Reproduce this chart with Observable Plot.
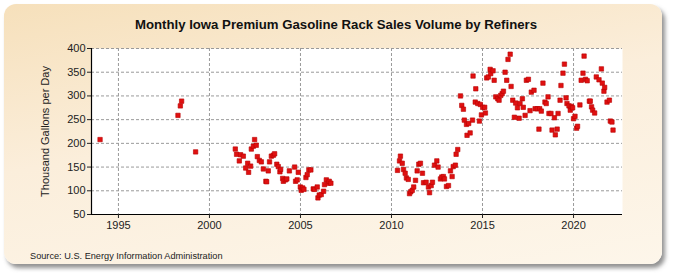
<!DOCTYPE html>
<html>
<head>
<meta charset="utf-8">
<script src="https://cdn.jsdelivr.net/npm/d3@7"></script>
<script src="https://cdn.jsdelivr.net/npm/@observablehq/plot@0.6"></script>
<style>
  html, body { margin: 0; padding: 0; background: #ffffff; }
  #wrap { position: relative; width: 675px; height: 275px; overflow: hidden; }
  #panel {
    position: absolute; left: 4px; top: 4px; width: 658px; height: 260px;
    border-radius: 12px;
    background: linear-gradient(170deg, #f6e0bb 0%, #fbeedb 45%, #fdf6ea 100%);
    box-shadow: 3px 4px 4px rgba(110,110,110,0.75);
  }
  #title {
    position: absolute; left: 0; width: 672px; top: 17px; text-align: center;
    font-family: "Liberation Sans", Arial, sans-serif;
    font-weight: bold; font-size: 13.2px; color: #111;
  }
  #source {
    position: absolute; left: 30px; top: 251px;
    font-family: "Liberation Sans", Arial, sans-serif; font-size: 9.2px; color: #222;
  }
  #chart { position: absolute; left: 0; top: 0; }
</style>
</head>
<body>
<div id="wrap">
  <div id="panel"></div>
  <div id="chart"></div>
  <div id="title">Monthly Iowa Premium Gasoline Rack Sales Volume by Refiners</div>
  <div id="source">Source: U.S. Energy Information Administration</div>
</div>
<script>
const years = [
  1993.99, 1998.27, 1998.40, 1998.47, 1999.24,
  2001.42, 2001.49, 2001.64, 2001.71, 2001.86, 2001.99, 2002.10, 2002.15, 2002.26, 2002.30,
  2002.41, 2002.48, 2002.57, 2002.63, 2002.74, 2002.85, 2002.96, 2003.10, 2003.14, 2003.23,
  2003.30, 2003.40, 2003.51, 2003.58, 2003.70, 2003.78, 2003.87, 2003.91, 2004.02, 2004.06,
  2004.17, 2004.25, 2004.39, 2004.68, 2004.73, 2004.82, 2004.88, 2004.99, 2005.04, 2005.12,
  2005.19, 2005.30, 2005.37, 2005.46, 2005.57, 2005.70, 2005.77, 2005.92, 2005.96, 2006.03,
  2006.14, 2006.27, 2006.32, 2006.42, 2006.53, 2006.58, 2006.67,
  2010.33, 2010.44, 2010.49, 2010.59, 2010.66, 2010.75, 2010.82, 2010.92, 2010.99, 2011.06,
  2011.14, 2011.22, 2011.32, 2011.41, 2011.50, 2011.59, 2011.70, 2011.76, 2011.90, 2012.03,
  2012.09, 2012.18, 2012.25, 2012.36, 2012.49, 2012.56, 2012.69, 2012.76, 2012.85, 2012.91,
  2013.02, 2013.13, 2013.24, 2013.33, 2013.39, 2013.51, 2013.55, 2013.64,
  2013.79, 2013.86, 2013.95, 2014.00, 2014.12, 2014.15, 2014.24, 2014.32, 2014.45, 2014.48,
  2014.60, 2014.63, 2014.74, 2014.83, 2014.88, 2014.94, 2015.01, 2015.12, 2015.16, 2015.23,
  2015.32, 2015.42, 2015.45, 2015.58, 2015.64, 2015.73, 2015.84, 2015.91, 2016.00, 2016.08,
  2016.15, 2016.24, 2016.33, 2016.40, 2016.52, 2016.57, 2016.66, 2016.75, 2016.82, 2016.92,
  2017.01, 2017.06, 2017.19, 2017.24, 2017.34, 2017.41, 2017.52, 2017.61, 2017.68, 2017.83,
  2017.89, 2018.01, 2018.10, 2018.14, 2018.23, 2018.32, 2018.43, 2018.50, 2018.60, 2018.65,
  2018.76, 2018.82, 2018.95, 2019.00, 2019.10, 2019.15, 2019.26, 2019.31, 2019.42, 2019.50,
  2019.59, 2019.64, 2019.75, 2019.82, 2019.88, 2019.95, 2020.00, 2020.08, 2020.17, 2020.22,
  2020.35, 2020.42, 2020.52, 2020.58, 2020.66, 2020.75, 2020.87, 2020.92, 2020.99, 2021.05,
  2021.16, 2021.25, 2021.40, 2021.53, 2021.58, 2021.67, 2021.71, 2021.84, 2021.97, 2022.02,
  2022.11, 2022.17
];
// Thousand gallons per day
const volumes = [
  208, 259, 279, 289, 182,
  188, 177, 163, 176, 173, 148, 158, 139, 152, 188,
  194, 208, 196, 172, 164, 161, 146, 120, 119, 142,
  161, 173, 175, 178, 156, 151, 140, 145, 126, 120,
  123, 125, 142, 150, 120, 123, 139, 108, 101, 106,
  103, 128, 134, 144, 144, 104, 103, 108, 85, 91,
  92, 99, 113, 123, 116, 120, 116,
  143, 163, 173, 158, 145, 137, 127, 124, 94, 98,
  101, 108, 122, 142, 156, 158, 137, 117, 118, 108,
  96, 111, 118, 154, 163, 150, 125, 129, 130, 125,
  109, 111, 142, 130, 151, 154, 177, 187,
  300, 280, 272, 249, 240, 217, 242, 222, 249, 342,
  287, 315, 284, 247, 282, 260, 276, 276, 264, 338,
  340, 356, 347, 353, 333, 298, 294, 291, 301, 305,
  310, 350, 333, 377, 388, 320, 291, 255, 285, 275,
  253, 284, 294, 276, 259, 333, 335, 269, 308, 312,
  273, 273, 230, 273, 268, 327, 287, 284, 298, 263,
  263, 228, 254, 218, 230, 263, 291, 322, 348, 367,
  296, 284, 279, 270, 278, 275, 252, 257, 232, 236,
  281, 333, 348, 384, 335, 332, 289, 289, 277, 270,
  264, 340, 334, 357, 327, 310, 318, 287, 291, 247,
  245, 228
];
const xTicks = [1995, 2000, 2005, 2010, 2015, 2020];
const yTicks = [50, 100, 150, 200, 250, 300, 350, 400];
const yLabel = "Thousand Gallons per Day";

const data = years.map((t, i) => ({year: t, value: volumes[i]}));
const xMin = 1993.52, xMax = 2022.69;

const chart = Plot.plot({
  width: 675,
  height: 275,
  marginLeft: 91,
  marginRight: 53,
  marginTop: 48,
  marginBottom: 61,
  style: {background: "transparent", fontFamily: "Liberation Sans, Arial, sans-serif", fontSize: "11px", color: "#222"},
  x: {type: "linear", domain: [xMin, xMax]},
  y: {domain: [50, 400]},
  marks: [
    Plot.frame({fill: "white", stroke: null}),
    Plot.gridX(xTicks, {stroke: "#9a9a9a", strokeOpacity: 1, strokeDasharray: "3,2"}),
    Plot.gridY(yTicks, {stroke: "#9a9a9a", strokeOpacity: 1, strokeDasharray: "3,2"}),
    Plot.ruleX([xMin], {stroke: "#000", strokeWidth: 1.2}),
    Plot.ruleY([50], {stroke: "#000", strokeWidth: 1.2}),
    Plot.axisX(xTicks, {tickSize: 4, tickPadding: 3, tickFormat: d => String(d), label: null, fontSize: 11}),
    Plot.axisY(yTicks, {tickSize: 4, tickPadding: 2, label: yLabel, labelAnchor: "center", labelArrow: "none", labelOffset: 50, fontSize: 11}),
    Plot.dot(data, {x: "year", y: "value", symbol: "square", r: 2.5, fill: "#e01010", stroke: "#b80000", strokeWidth: 0.6})
  ]
});
document.getElementById("chart").appendChild(chart);
</script>
</body>
</html>
